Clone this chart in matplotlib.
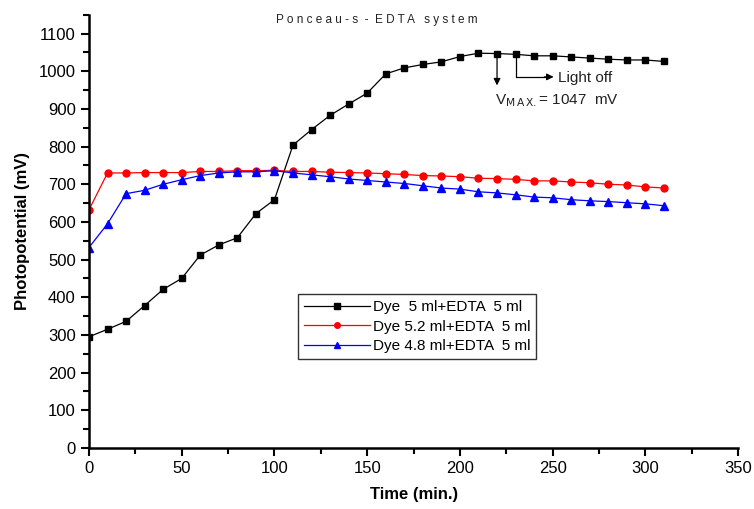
import matplotlib.pyplot as plt
from matplotlib.ticker import MultipleLocator

plt.rcParams['font.family'] = ['Liberation Sans', 'DejaVu Sans']

# time in minutes
time = list(range(0, 320, 10))

dye_5 = [295, 315, 336, 378, 421, 450, 512, 539, 558, 622, 659, 804, 845, 883, 913, 942,
         993, 1009, 1018, 1025, 1039, 1048, 1047, 1045, 1041, 1041, 1038, 1035, 1032, 1030, 1030, 1026]
dye_52 = [632, 730, 730, 731, 731, 731, 734, 734, 736, 736, 737, 734, 734, 732, 731, 730,
          728, 726, 723, 722, 720, 716, 715, 713, 709, 709, 706, 704, 700, 698, 693, 690]
dye_48 = [532, 595, 675, 684, 700, 712, 723, 730, 733, 733, 736, 730, 725, 720, 714, 710,
          706, 702, 696, 690, 687, 680, 677, 672, 666, 664, 659, 656, 654, 651, 648, 643]

labels = ['Dye  5 ml+EDTA  5 ml', 'Dye 5.2 ml+EDTA  5 ml', 'Dye 4.8 ml+EDTA  5 ml']

fig = plt.figure(figsize=(7.54, 5.09), dpi=100)
ax = fig.add_axes([0.118, 0.12, 0.861, 0.851])

ax.plot(time, dye_5, color='black', marker='s', markersize=5, linewidth=0.9, label=labels[0])
ax.plot(time, dye_52, color='red', marker='o', markersize=5, linewidth=0.9, label=labels[1])
ax.plot(time, dye_48, color='blue', marker='^', markersize=5.5, linewidth=0.9, label=labels[2])

ax.set_xlim(0, 350)
ax.set_ylim(0, 1150)
ax.xaxis.set_major_locator(MultipleLocator(50))
ax.xaxis.set_minor_locator(MultipleLocator(25))
ax.yaxis.set_major_locator(MultipleLocator(100))
ax.yaxis.set_minor_locator(MultipleLocator(50))
ax.set_yticks(range(0, 1101, 100))
for s in ['top', 'right']:
    ax.spines[s].set_visible(False)
for s in ['left', 'bottom']:
    ax.spines[s].set_linewidth(1.8)
ax.tick_params(which='major', direction='out', length=6, width=1.5, labelsize=12)
ax.tick_params(which='minor', direction='out', length=4, width=1.5)

ax.set_xlabel('Time (min.)', fontsize=12, fontweight='bold', labelpad=8)
ax.set_ylabel('Photopotential (mV)', fontsize=12, fontweight='bold', labelpad=6)

ax.text(0.443, 0.988, 'P o n c e a u - s  -  E D T A   s y s t e m', transform=ax.transAxes,
        ha='center', va='center', fontsize=8.5, color='#222222')

# V max arrow
ax.annotate('', xy=(220, 955), xytext=(220, 1047),
            arrowprops=dict(arrowstyle='-|>', color='black', lw=0.9, mutation_scale=10))
ax.text(219, 922, r'V$_{\mathrm{M\,A\,X.}}$= 1047  mV', fontsize=11, ha='left', va='center',
        color='#222222')

# Light off arrow
ax.plot([230, 230, 246], [1045, 985, 985], color='black', lw=0.9)
ax.annotate('', xy=(252, 985), xytext=(244, 985),
            arrowprops=dict(arrowstyle='-|>', color='black', lw=0.9, mutation_scale=10))
ax.text(253, 981, 'Light off', fontsize=11, ha='left', va='center', color='#222222')

leg = ax.legend(loc='upper left', bbox_to_anchor=(0.322, 0.355), fontsize=11,
                frameon=True, fancybox=False, edgecolor='black', handlelength=4.3,
                borderpad=0.4, labelspacing=0.35, handletextpad=0.2, borderaxespad=0,
                markerscale=0.8)
leg.get_frame().set_linewidth(1.0)

fig.savefig('out.png', dpi=100)
